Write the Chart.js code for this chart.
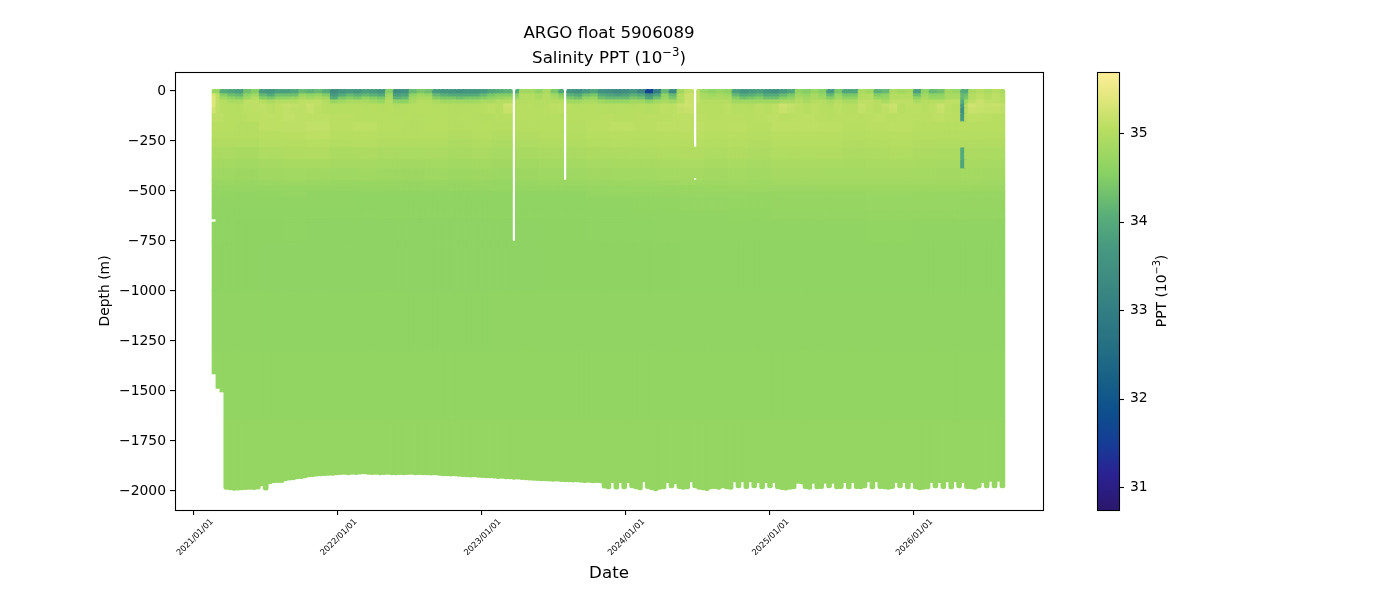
<!DOCTYPE html>
<html>
<head>
<meta charset="utf-8">
<title>ARGO float 5906089</title>
<script src="https://cdn.jsdelivr.net/npm/chart.js@4/dist/chart.umd.js"></script>
<style>
  html, body { margin: 0; background: #fff; }
  canvas { display: block; }
</style>
</head>
<body>
<canvas id="section" width="1400" height="600"></canvas>
<script>
// x ticks, in days after 2021/01/01
const xTickDays = [0, 365, 730, 1095, 1461, 1826];
const xTickLabels = ['2021/01/01', '2022/01/01', '2023/01/01', '2024/01/01', '2025/01/01', '2026/01/01'];
const yTicks = [0, -250, -500, -750, -1000, -1250, -1500, -1750, -2000];
const colorTicks = [31, 32, 33, 34, 35];

// profile dates, days after 2021/01/01
const profileDays = [
  52,62,72,82,92,102,112,122,132,142,
  152,162,172,182,192,202,212,222,232,242,
  252,262,272,282,292,302,312,322,332,342,
  352,362,372,382,392,402,412,422,432,442,
  452,462,472,482,492,502,512,522,532,542,
  552,562,572,582,592,602,612,622,632,642,
  652,662,672,682,692,702,712,722,732,742,
  752,762,772,782,792,802,812,822,832,842,
  852,862,872,882,892,902,912,922,932,942,
  952,962,972,982,992,1002,1012,1022,1032,1042,
  1052,1062,1072,1082,1092,1102,1112,1122,1132,1142,
  1152,1162,1172,1182,1192,1202,1212,1222,1232,1242,
  1252,1262,1272,1282,1292,1302,1312,1322,1332,1342,
  1352,1362,1372,1382,1392,1402,1412,1422,1432,1442,
  1452,1462,1472,1482,1492,1502,1512,1522,1532,1542,
  1552,1562,1572,1582,1592,1602,1612,1622,1632,1642,
  1652,1662,1672,1682,1692,1702,1712,1722,1732,1742,
  1752,1762,1772,1782,1792,1802,1812,1822,1832,1842,
  1852,1862,1872,1882,1892,1902,1912,1922,1932,1942,
  1952,1962,1972,1982,1992,2002,2012,2022,2032,2042,
  2052
];

// deepest reading of each profile (m)
const bottomDepths = [
  -1415,-1487,-1505,-1992,-1995,-1997,-1996,-1994,-1993,-1992,
  -1993,-1991,-1975,-1996,-1965,-1960,-1958,-1958,-1950,-1946,
  -1945,-1940,-1938,-1934,-1930,-1928,-1926,-1925,-1923,-1922,
  -1922,-1920,-1918,-1917,-1919,-1917,-1918,-1916,-1915,-1917,
  -1918,-1917,-1919,-1918,-1917,-1919,-1920,-1918,-1919,-1918,
  -1917,-1919,-1918,-1920,-1919,-1921,-1920,-1922,-1924,-1925,
  -1926,-1925,-1927,-1928,-1929,-1931,-1930,-1932,-1933,-1934,
  -1935,-1936,-1938,-1937,-1939,-1940,-1942,-1941,-1943,-1945,
  -1946,-1947,-1948,-1950,-1949,-1951,-1952,-1951,-1953,-1954,
  -1955,-1956,-1955,-1957,-1958,-1957,-1959,-1958,-1960,-1986,
  -1990,-1958,-1991,-1958,-1990,-1958,-1985,-1990,-1995,-1955,
  -1988,-1995,-2000,-1992,-1990,-1958,-1985,-1965,-1988,-1992,
  -1990,-1955,-1985,-1992,-1995,-1998,-1990,-1988,-1992,-1985,
  -1990,-1992,-1955,-1985,-1955,-1988,-1955,-1985,-1958,-1990,
  -1958,-1985,-1958,-1990,-1993,-1996,-1992,-1990,-1962,-1965,
  -1988,-1992,-1962,-1990,-1988,-1962,-1985,-1962,-1990,-1988,
  -1958,-1990,-1958,-1988,-1990,-1985,-1955,-1990,-1955,-1988,
  -1990,-1992,-1988,-1958,-1985,-1958,-1990,-1958,-1990,-1995,
  -1992,-1990,-1958,-1985,-1958,-1988,-1955,-1990,-1955,-1985,
  -1958,-1988,-1990,-1992,-1985,-1958,-1985,-1952,-1985,-1952,
  -1985
];

// layer boundaries (m)
const levels = [8,-10,-25,-40,-60,-80,-110,-150,-200,-240,-280,-340,-385,-435,-445,-470,-500,-530,-590,-640,-655,-750,-1000,-1300,-1650];

const sal0 = [
  34.7,34.0,33.9,33.8,34.3,34.5,33.7,33.6,33.8,33.8,
  33.9,34.2,34.1,34.2,34.0,33.4,33.6,33.7,33.6,33.8,
  33.7,33.6,34.5,33.4,33.5,34.2,34.4,34.3,33.7,33.6,
  33.6,33.5,33.6,33.6,33.7,33.9,34.0,34.1,34.0,34.8,
  34.8,34.6,34.9,34.4,33.9,33.6,33.5,33.7,33.9,33.5,
  33.4,33.3,33.4,33.6,33.2,31.6,33.0,34.2,33.3,34.8,
  35.1,35.0,34.7,34.6,34.7,34.6,33.8,33.6,33.7,33.8,
  33.6,33.5,33.7,33.9,34.6,34.5,34.7,34.5,33.7,34.4,
  33.9,33.9,34.9,34.8,34.1,34.2,34.9,34.8,34.9,33.8,
  34.6,34.2,34.3,34.8,34.7,34.0,34.9,35.0,34.9,35.0,34.9
];
const sal10 = [
  35.1,34.5,34.3,34.2,34.6,34.8,34.2,34.0,34.3,34.3,
  34.3,34.7,34.6,34.7,34.5,33.7,34.0,34.2,34.1,34.2,
  34.1,34.0,34.8,33.8,33.9,34.6,34.8,34.7,34.2,34.1,
  34.0,34.0,34.0,34.0,34.2,34.4,34.5,34.5,34.5,35.0,
  35.0,34.9,35.0,34.8,34.5,34.1,34.0,34.3,34.4,34.0,
  33.9,33.8,33.9,34.1,34.0,33.6,33.9,34.6,34.2,35.0,
  35.2,35.1,34.9,34.8,34.9,34.8,34.2,34.0,34.1,34.2,
  34.0,34.0,34.2,34.4,34.8,34.7,34.9,34.7,34.2,34.7,
  34.4,34.4,35.0,35.0,34.5,34.6,35.0,35.0,35.0,34.3,
  34.8,34.6,34.6,34.9,34.9,34.3,35.0,35.1,35.0,35.1,35.0
];
const sal25 = [
  35.1,34.8,34.6,34.5,34.8,35.0,34.5,34.4,34.6,34.6,
  34.7,34.9,34.8,34.9,34.8,34.0,34.4,34.5,34.4,34.6,
  34.5,34.4,34.9,34.1,34.2,34.8,34.9,34.9,34.5,34.4,
  34.4,34.3,34.4,34.4,34.5,34.6,34.7,34.8,34.7,35.0,
  35.0,34.9,35.0,34.9,34.7,34.4,34.3,34.6,34.7,34.3,
  34.2,34.2,34.2,34.4,34.3,33.9,34.3,34.7,34.4,35.0,
  35.2,35.1,34.9,34.9,34.9,34.9,34.5,34.3,34.4,34.5,
  34.3,34.3,34.5,34.6,34.9,34.8,34.9,34.8,34.5,34.8,
  34.6,34.6,35.0,35.0,34.7,34.7,35.0,35.0,35.0,34.6,
  34.9,34.7,34.7,34.9,34.9,34.4,35.0,35.1,35.0,35.1,35.0
];
const sal40 = [
  35.1,35.0,34.9,34.9,35.1,35.1,35.0,34.9,35.0,35.0,
  35.0,35.1,35.1,35.1,35.0,34.7,34.8,34.9,34.9,34.9,
  34.8,34.7,35.0,34.6,34.6,34.9,35.0,35.0,34.9,34.8,
  34.8,34.8,34.8,34.8,34.9,34.9,35.0,35.0,35.0,35.0,
  35.0,35.0,35.0,35.0,35.0,34.8,34.8,34.9,34.9,34.8,
  34.7,34.7,34.7,34.8,34.8,34.6,34.8,34.9,34.8,35.0,
  35.2,35.1,35.0,35.0,35.0,35.0,34.8,34.8,34.8,34.8,
  34.8,34.8,34.9,34.9,35.0,34.9,35.0,35.0,34.9,35.0,
  34.9,34.9,35.1,35.1,35.0,34.9,35.1,35.1,35.1,34.9,
  35.0,35.0,35.0,35.1,35.1,34.8,35.1,35.2,35.1,35.1,35.0
];
const sal60 = [
  35.10,35.05,35.03,35.03,35.08,35.10,35.12,35.06,35.08,35.15,
  35.12,35.10,35.18,35.08,35.05,35.02,35.05,35.03,35.05,35.02,
  35.05,35.00,35.05,34.98,35.00,35.03,35.05,35.05,35.02,35.03,
  35.00,35.00,35.00,35.02,35.05,35.08,35.05,35.22,35.02,35.05,
  35.05,35.02,35.05,35.08,35.10,35.05,35.02,35.03,35.05,35.02,
  35.00,35.00,35.02,35.02,35.05,35.00,35.05,35.10,35.08,35.18,
  35.22,35.05,35.05,35.05,35.05,35.08,35.02,35.05,35.02,35.08,
  35.05,35.10,35.22,35.15,35.08,35.05,35.08,35.05,35.02,35.08,
  35.05,35.05,35.15,35.08,35.05,35.12,35.20,35.05,35.08,35.08,
  35.05,35.08,35.20,35.08,35.05,35.05,35.25,35.20,35.15,35.18,35.12
];
const sal80 = [
  35.10,35.05,35.03,35.03,35.07,35.08,35.10,35.06,35.08,35.12,
  35.10,35.08,35.14,35.07,35.05,35.03,35.05,35.03,35.05,35.03,
  35.05,35.02,35.05,35.00,35.02,35.03,35.05,35.05,35.03,35.03,
  35.02,35.02,35.02,35.03,35.05,35.07,35.05,35.18,35.03,35.05,
  35.05,35.03,35.05,35.07,35.08,35.05,35.03,35.03,35.05,35.03,
  35.02,35.02,35.03,35.03,35.05,35.02,35.05,35.08,35.07,35.14,
  35.18,35.05,35.05,35.05,35.05,35.07,35.03,35.05,35.03,35.07,
  35.05,35.08,35.18,35.12,35.07,35.05,35.07,35.05,35.03,35.07,
  35.05,35.05,35.12,35.07,35.05,35.10,35.16,35.05,35.07,35.07,
  35.05,35.07,35.16,35.07,35.05,35.05,35.20,35.16,35.12,35.14,35.10
];
const sal110 = [
  35.10,35.04,35.05,35.07,35.09,35.08,35.12,35.10,35.08,35.08,
  35.06,35.06,35.04,35.03,35.04,35.03,35.03,35.02,35.03,35.04,
  35.02,35.03,35.02,35.02,35.04,35.03,35.04,35.03,35.03,35.03,
  35.05,35.05,35.05,35.06,35.05,35.05,35.06,35.06,35.06,35.08,
  35.10,35.06,35.05,35.06,35.06,35.05,35.06,35.10,35.06,35.07,
  35.08,35.06,35.05,35.06,35.06,35.06,35.08,35.06,35.07,35.06,
  35.06,35.08,35.06,35.06,35.08,35.07,35.05
];
const sal150 = [35.05,35.02,35.08,35.10,35.12,35.06,35.08,35.05,35.02,35.04,35.00,35.03,35.00,35.01,35.03,35.02,35.06,35.08,35.06,35.08,35.10,35.06,35.07,35.05,35.08,35.09,35.07,35.05,35.06,35.07,35.05,35.03,35.05,35.04];
const sal200 = [35.02,35.00,35.04,35.06,35.08,35.03,35.04,35.02,35.00,35.00,34.97,35.00,34.97,34.98,35.00,34.99,35.03,35.04,35.03,35.05,35.06,35.03,35.04,35.02,35.05,35.05,35.04,35.02,35.03,35.04,35.02,35.00,35.02,35.01];
const sal240 = [34.97,34.96,35.00,35.02,35.03,34.99,35.00,34.97,34.95,34.96,34.93,34.96,34.93,34.94,34.96,34.95,34.99,35.00,34.99,35.01,35.02,34.99,35.00,34.98,35.01,35.01,35.00,34.98,34.99,35.00,34.98,34.96,34.98,34.97];
const sal280 = [34.90,34.88,34.94,34.96,34.97,34.92,34.93,34.90,34.89,34.90,34.88,34.90,34.87,34.88,34.90,34.90,34.93,34.94,34.94,34.96,34.97,34.94,34.95,34.93,34.96,34.96,34.95,34.93,34.94,34.95,34.93,34.92,34.93,34.92];
const sal340 = [34.84,34.82,34.86,34.88,34.88,34.85,34.86,34.84,34.83,34.84,34.82,34.84,34.81,34.82,34.84,34.84,34.87,34.88,34.88,34.90,34.91,34.88,34.89,34.87,34.90,34.90,34.89,34.88,34.89,34.90,34.88,34.87,34.88,34.87];
const sal385 = [34.78,34.76,34.80,34.82,34.80,34.78,34.79,34.77,34.76,34.78,34.75,34.77,34.74,34.76,34.78,34.78,34.81,34.82,34.82,34.84,34.85,34.83,34.84,34.82,34.85,34.85,34.84,34.84,34.85,34.85,34.84,34.83,34.84,34.83];
const sal445 = [34.72,34.70,34.73,34.74,34.72,34.70,34.71,34.70,34.69,34.70,34.69,34.70,34.68,34.70,34.72,34.72,34.74,34.75,34.75,34.77,34.78,34.77,34.78,34.77,34.79,34.79,34.79,34.79,34.80,34.80,34.79,34.79,34.79,34.78];
const sal470 = [34.69,34.68,34.69,34.68,34.68,34.68,34.68,34.68,34.70,34.71,34.73,34.74,34.74,34.75,34.76,34.76,34.75];
const sal500 = [34.66,34.65,34.66,34.67,34.65,34.64,34.65,34.64,34.64,34.64,34.63,34.64,34.63,34.64,34.65,34.65,34.67,34.68,34.68,34.69,34.70,34.70,34.70,34.69,34.71,34.71,34.71,34.71,34.72,34.72,34.71,34.71,34.71,34.70];
const sal530 = [34.65,34.64,34.64,34.63,34.63,34.63,34.63,34.63,34.65,34.66,34.67,34.68,34.69,34.69,34.70,34.70,34.69];
const sal590 = [34.63,34.63,34.62,34.62,34.62,34.62,34.62,34.62,34.63,34.64,34.65,34.66,34.67,34.67,34.68,34.68,34.67];
const sal640 = [34.62,34.61,34.61,34.62,34.60,34.60,34.60,34.60,34.60,34.60,34.60,34.60,34.60,34.60,34.61,34.61,34.62,34.63,34.63,34.64,34.64,34.64,34.64,34.64,34.65,34.65,34.65,34.65,34.66,34.66,34.65,34.65,34.65,34.65];
const sal750 = [34.61,34.60,34.60,34.60,34.60,34.60,34.60,34.61,34.61,34.61,34.62,34.62,34.62,34.62,34.62,34.62,34.62];
const sal1000 = [34.64,34.63,34.63,34.63,34.63,34.63,34.64,34.64,34.64,34.64,34.64,34.64,34.64,34.64,34.64,34.64,34.64];
const sal1300 = [34.66,34.66,34.66,34.66,34.66,34.66,34.66,34.66,34.66,34.66,34.66,34.66,34.66,34.66,34.66,34.66,34.66];
const sal1650 = [34.68,34.68,34.68,34.68,34.68,34.68,34.68,34.68,34.68,34.68,34.68,34.68,34.68,34.68,34.68,34.68,34.68];

// one entry per layer between the levels above
const layerSalinity = [sal0,sal10,sal25,sal40,sal60,sal80,sal110,sal150,sal200,sal240,sal280,sal340,sal385,sal385,sal445,sal470,sal500,sal530,sal590,sal640,sal640,sal750,sal1000,sal1300,sal1650];

// missing stretches of a profile
const gapProfiles = [0, 76, 89, 122, 122];
const gapTops = [-640, 10, 10, 10, -435];
const gapBottoms = [-655, -750, -440, -280, -445];

// single profiles that stand out from their neighbours
const streakProfiles = [0, 190];
const streakLayers = [[1,2,3,4,5], [1,2,3,4,5,6,10,11]];
const streakValues = [[35.3,35.35,35.35,35.35,35.25], [34.2,34.2,34.0,33.7,33.5,33.7,34.0,33.9]];

const colorMin = 30.74, colorMax = 35.69;
const haline = [
  [0,42,24,108],[.08,43,33,146],[.15,22,60,150],[.22,13,78,141],[.3,24,97,134],
  [.4,42,116,131],[.5,58,134,130],[.6,71,153,128],[.67,88,173,121],[.77,137,210,99],
  [.87,184,222,97],[.94,225,231,124],[1,253,238,153]
];

function salinityColor(s) {
  const t = Math.min(1, Math.max(0, (s - colorMin) / (colorMax - colorMin)));
  for (let k = 1; k < haline.length; k++) {
    if (t <= haline[k][0]) {
      const a = haline[k - 1], b = haline[k];
      const f = (t - a[0]) / (b[0] - a[0]);
      return 'rgb(' + [1, 2, 3].map(c => Math.round(a[c] + (b[c] - a[c]) * f)).join(',') + ')';
    }
  }
  return 'rgb(253,238,153)';
}

function isGap(profile, depth) {
  return gapProfiles.some((p, g) => p === profile && depth <= gapTops[g] && depth >= gapBottoms[g]);
}

const datasets = layerSalinity.map((values, layer) => {
  const data = [], colors = [];
  const top = levels[layer];
  const last = layer === levels.length - 1;
  profileDays.forEach((day, i) => {
    const low = last ? bottomDepths[i] : Math.max(levels[layer + 1], bottomDepths[i]);
    if (low >= top || isGap(i, (low + top) / 2)) return;
    let s = values[Math.floor(i * values.length / profileDays.length)];
    const st = streakProfiles.indexOf(i);
    if (st >= 0 && streakLayers[st].includes(layer)) s = streakValues[st][streakLayers[st].indexOf(layer)];
    data.push({ x: day, y: [low, top] });
    colors.push(salinityColor(s));
  });
  return {
    data,
    backgroundColor: colors,
    borderWidth: 0,
    borderSkipped: false,
    barThickness: 5,
    grouped: false,
    borderRadius: layer === 0 ? { topLeft: 2.5, topRight: 2.5, bottomLeft: 0, bottomRight: 0 }
      : last ? { topLeft: 0, topRight: 0, bottomLeft: 2.5, bottomRight: 2.5 } : 0
  };
});

// text with a raised exponent, centred on x
function drawExponentText(ctx, before, power, after, x, y, size) {
  const font = s => s + 'px "DejaVu Sans"';
  ctx.font = font(size);
  const w1 = ctx.measureText(before).width, w3 = ctx.measureText(after).width;
  ctx.font = font(size * 0.7);
  const w2 = ctx.measureText(power).width;
  let left = x - (w1 + w2 + w3) / 2;
  ctx.textAlign = 'left';
  ctx.textBaseline = 'alphabetic';
  ctx.font = font(size);
  ctx.fillText(before, left, y);
  left += w1;
  ctx.font = font(size * 0.7);
  ctx.fillText(power, left, y - size * 0.42);
  left += w2;
  ctx.font = font(size);
  ctx.fillText(after, left, y);
}

// titles, frame round the axes and the colour bar beside them
const framePlugin = {
  id: 'frame',
  afterDraw(chart) {
    const { ctx, chartArea: a, scales } = chart;
    ctx.save();
    ctx.strokeStyle = '#000';
    ctx.fillStyle = '#000';
    ctx.lineWidth = 1.1;
    ctx.strokeRect(a.left + 0.5, a.top + 0.5, a.right - a.left, a.bottom - a.top);

    const mid = (a.left + a.right) / 2;
    ctx.font = '16.67px "DejaVu Sans"';
    ctx.textAlign = 'center';
    ctx.textBaseline = 'alphabetic';
    ctx.fillText('ARGO float 5906089', mid, 38);
    drawExponentText(ctx, 'Salinity PPT (10', '−3', ')', mid, 63, 16.67);

    const barLeft = 1097, barRight = 1119;
    const grad = ctx.createLinearGradient(0, a.bottom, 0, a.top);
    haline.forEach(c => grad.addColorStop(c[0], 'rgb(' + c[1] + ',' + c[2] + ',' + c[3] + ')'));
    ctx.fillStyle = grad;
    ctx.fillRect(barLeft, a.top, barRight - barLeft, a.bottom - a.top);
    ctx.strokeRect(barLeft + 0.5, a.top + 0.5, barRight - barLeft, a.bottom - a.top);
    colorTicks.forEach(v => {
      const y = Math.round(scales.c.getPixelForValue(v)) + 0.5;
      ctx.beginPath();
      ctx.moveTo(barRight, y);
      ctx.lineTo(barRight + 5, y);
      ctx.stroke();
    });

    ctx.translate(1166, (a.top + a.bottom) / 2);
    ctx.rotate(-Math.PI / 2);
    ctx.fillStyle = '#000';
    drawExponentText(ctx, 'PPT (10', '−3', ')', 0, 0, 13.9);
    ctx.restore();
  }
};

Chart.defaults.font.family = '"DejaVu Sans", sans-serif';
Chart.defaults.color = '#000';

new Chart(document.getElementById('section'), {
  type: 'bar',
  data: { datasets },
  plugins: [framePlugin],
  options: {
    responsive: false,
    animation: false,
    layout: { padding: { top: 72, left: 0, right: 0, bottom: 0 } },
    plugins: {
      legend: { display: false },
      tooltip: { enabled: false },
      title: { display: false }
    },
    scales: {
      x: {
        type: 'linear',
        offset: false,
        min: -48.2,
        max: 2155,
        grid: { display: true, offset: false, drawOnChartArea: false, drawTicks: true, tickLength: 5, tickColor: '#000', lineWidth: 1.1 },
        border: { display: false },
        afterBuildTicks: s => { s.ticks = xTickDays.map(v => ({ value: v })); },
        afterFit: s => { s.height = 90; },
        ticks: {
          autoSkip: false,
          minRotation: 45,
          maxRotation: 45,
          labelOffset: 18,
          padding: 2,
          font: { size: 8.3 },
          color: '#000',
          callback: v => xTickLabels[xTickDays.indexOf(v)]
        },
        title: { display: true, text: 'Date', font: { size: 16.67 }, padding: { top: 0, bottom: 16 } }
      },
      y: {
        type: 'linear',
        min: -2095,
        max: 95,
        grid: { display: true, drawOnChartArea: false, drawTicks: true, tickLength: 5, tickColor: '#000', lineWidth: 1.1 },
        border: { display: false },
        afterBuildTicks: s => { s.ticks = yTicks.map(v => ({ value: v })); },
        afterFit: s => { s.width = 175; s.paddingTop = 0; s.paddingBottom = 0; },
        ticks: {
          padding: 4,
          font: { size: 13.9 },
          callback: v => String(v).replace('-', '−')
        },
        title: { display: true, text: 'Depth (m)', font: { size: 13.9 }, padding: { top: 97, bottom: 0 } }
      },
      c: {
        type: 'linear',
        position: 'right',
        min: colorMin,
        max: colorMax,
        grid: { display: false },
        border: { display: false },
        afterBuildTicks: s => { s.ticks = colorTicks.map(v => ({ value: v })); },
        afterFit: s => { s.width = 357; s.paddingTop = 0; s.paddingBottom = 0; },
        ticks: {
          padding: 79,
          font: { size: 13.9 },
          callback: v => String(v)
        }
      }
    }
  }
});
</script>
</body>
</html>
